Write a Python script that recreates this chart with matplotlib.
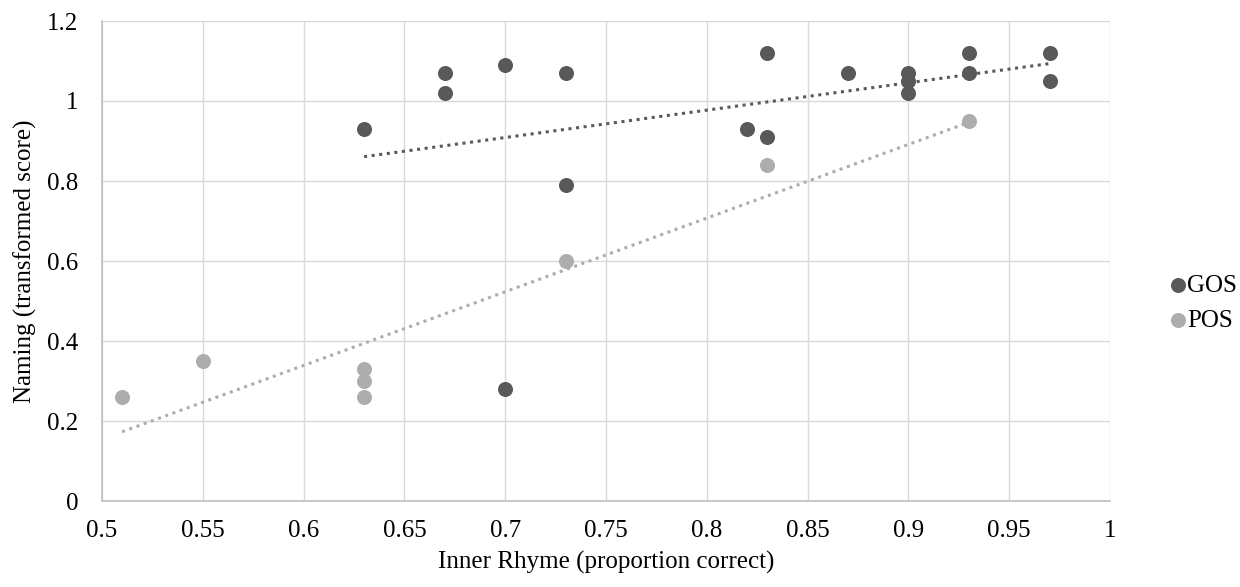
import matplotlib
matplotlib.use("Agg")
import matplotlib.pyplot as plt
import numpy as np
from matplotlib.ticker import FuncFormatter, MultipleLocator

plt.rcParams['font.family'] = ['Liberation Serif', 'DejaVu Serif']

gos_x = [0.63, 0.67, 0.67, 0.70, 0.70, 0.73, 0.73, 0.82, 0.83, 0.83, 0.87,
         0.90, 0.90, 0.90, 0.93, 0.93, 0.97, 0.97]
gos_y = [0.93, 1.07, 1.02, 1.09, 0.28, 1.07, 0.79, 0.93, 1.12, 0.91, 1.07,
         1.07, 1.05, 1.02, 1.12, 1.07, 1.12, 1.05]
pos_x = [0.51, 0.55, 0.63, 0.63, 0.63, 0.73, 0.83, 0.93]
pos_y = [0.26, 0.35, 0.33, 0.30, 0.26, 0.60, 0.84, 0.95]

series = ["GOS", "POS"]
colors = {"GOS": "#595959", "POS": "#ADADAD"}

fig = plt.figure(figsize=(12.4, 5.87), dpi=100)
ax = fig.add_axes([102/1240, 1-501/587, (1110-102)/1240, (501-21)/587])

for name, xs, ys in [("GOS", gos_x, gos_y), ("POS", pos_x, pos_y)]:
    c = colors[name]
    ax.scatter(xs, ys, s=117, color=c, label=name, zorder=3, linewidths=0)
    k, b = np.polyfit(xs, ys, 1)
    xr = np.array([min(xs), max(xs)])
    ax.plot(xr, k*xr + b, linestyle=(0, (1, 1.5)), color=c, linewidth=2.2, zorder=2)

ax.set_xlim(0.5, 1.0)
ax.set_ylim(0, 1.2)
ax.xaxis.set_major_locator(MultipleLocator(0.05))
ax.yaxis.set_major_locator(MultipleLocator(0.2))

def fmt(v, pos):
    s = f"{v:.2f}".rstrip('0').rstrip('.')
    return s
ax.xaxis.set_major_formatter(FuncFormatter(fmt))
ax.yaxis.set_major_formatter(FuncFormatter(fmt))

ax.grid(True, color="#D9D9D9", linewidth=1.0, zorder=0)
ax.set_axisbelow(True)
for sp in ['top', 'right']:
    ax.spines[sp].set_visible(False)
for sp in ['left', 'bottom']:
    ax.spines[sp].set_color("#BFBFBF")
    ax.spines[sp].set_linewidth(1.2)
ax.tick_params(axis='x', length=0, labelsize=18, pad=14, colors='black')
ax.tick_params(axis='y', length=0, labelsize=18, pad=17, colors='black')

ax.set_xlabel("Inner Rhyme (proportion correct)", fontsize=18)
ax.set_ylabel("Naming (transformed score)", fontsize=18)
ax.xaxis.set_label_coords(0.5, -0.128)
ax.yaxis.set_label_coords(-0.076, 0.5)
ax.xaxis.label.set_va('center')
ax.yaxis.label.set_va('center')

handles, labels = ax.get_legend_handles_labels()
leg = fig.legend(handles, labels, loc='center left',
                 bbox_to_anchor=(1155/1240, 1-303/587), frameon=False,
                 fontsize=18, handletextpad=-0.1, markerscale=1.0,
                 labelspacing=0.5, borderaxespad=0, handlelength=1.0)

fig.savefig("out.png", dpi=100)
